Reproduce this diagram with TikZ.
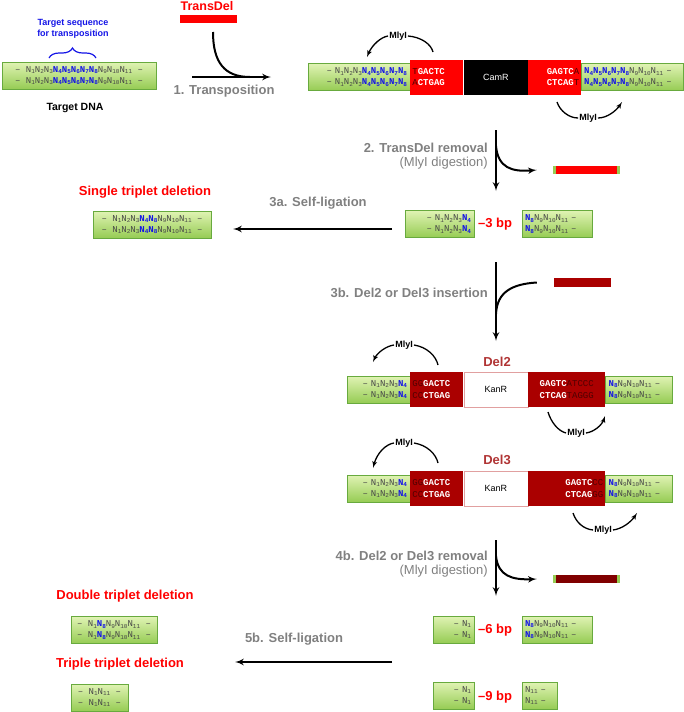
\documentclass[tikz,border=0pt]{standalone}
\usepackage{fontspec}
\setmainfont{Liberation Sans}
\setmonofont{Liberation Mono}
\usetikzlibrary{positioning,arrows,decorations.pathreplacing}

\definecolor{dnatop}{RGB}{224,243,180}
\definecolor{dnabot}{RGB}{150,204,84}
\definecolor{dnaline}{RGB}{104,170,62}
\definecolor{seqblue}{RGB}{20,20,230}
\definecolor{seqgrey}{RGB}{70,70,70}
\definecolor{transred}{RGB}{255,0,0}
\definecolor{delred}{RGB}{170,0,0}
\definecolor{darkseq}{RGB}{80,0,0}
\definecolor{barred}{RGB}{128,0,0}
\definecolor{stepgrey}{RGB}{128,128,128}
\definecolor{dellabel}{RGB}{176,52,52}
\definecolor{kanline}{RGB}{225,160,160}

% sequence letters
\newcommand{\nn}[1]{N\raisebox{-1.4pt}{\fontsize{6}{6}\selectfont #1}}
\newcommand{\nb}[1]{{\color{seqblue}\bfseries N\raisebox{-1.4pt}{\fontsize{6}{6}\selectfont #1}}}
\newcommand{\seqfull}{– \nn1\nn2\nn3\nb4\nb5\nb6\nb7\nb8\nn9\nn{10}\nn{11} –}
\newcommand{\seqleft}{– \nn1\nn2\nn3\nb4\nb5\nb6\nb7\nb8}
\newcommand{\seqright}{\nb4\nb5\nb6\nb7\nb8\nn9\nn{10}\nn{11} –}
\newcommand{\seqcut}{– \nn1\nn2\nn3\nb4}
\newcommand{\seqrest}{\nb8\nn9\nn{10}\nn{11} –}
\newcommand{\wseq}[1]{{\color{white}\bfseries #1}}
\newcommand{\dseq}[1]{{\color{darkseq}#1}}

\tikzstyle{dna} = [rectangle, draw=dnaline, top color=dnatop, bottom color=dnabot, inner sep=0pt, minimum height=27, text=seqgrey, font=\ttfamily\fontsize{9}{11}\selectfont]
\tikzstyle{cut} = [rectangle, inner sep=0pt, minimum height=35, font=\ttfamily\fontsize{9}{11.5}\selectfont]
\tikzstyle{marker} = [rectangle, inner sep=0pt, minimum height=8]
\tikzstyle{stagetext} = [font=\bfseries\fontsize{13}{15}\selectfont, text=stepgrey, inner sep=0pt]
\tikzstyle{stagenote} = [font=\fontsize{13}{15}\selectfont, text=stepgrey, inner sep=0pt]
\tikzstyle{outcome} = [font=\bfseries\fontsize{13}{15}\selectfont, text=red, inner sep=0pt]
\tikzstyle{enzyme} = [font=\bfseries\fontsize{9}{10}\selectfont, inner sep=1pt]
\tikzstyle{line} = [draw, line width=2pt, -latex']
\tikzstyle{branch} = [draw, line width=2pt]
\tikzstyle{cutarc} = [draw, line width=1.3pt]

\begin{document}
\begin{tikzpicture}[x=1pt, y=-1pt]
  \useasboundingbox (0,0) rectangle (684,712);

  % target DNA
  \node [font=\bfseries\fontsize{9}{11}\selectfont, text=seqblue, align=center] (tseq) at (73,28.5) {Target sequence\\for transposition};
  \draw [decorate, decoration={brace, amplitude=10pt}, seqblue, line width=1.2pt] (49,58) -- (96,58);
  \node [dna, minimum width=154, align=center] (target) at (79,75.5) {\seqfull\\\seqfull};
  \node [font=\bfseries\fontsize{10.5}{12}\selectfont] (targetlab) at (75,108) {Target DNA};

  % TransDel
  \node [font=\bfseries\fontsize{12.5}{14}\selectfont, text=transred, inner sep=0pt] (translab) at (207,6) {TransDel};
  \node [marker, fill=transred, minimum width=57] (transbar) at (208.5,19) {};

  % step 1
  \coordinate (a1s) at (192,77);
  \coordinate (a1e) at (271,77);
  \coordinate (a1b) at (213,32);
  \path [line] (a1s) -- (a1e);
  \path [branch] (a1b) .. controls (213,63) and (225,77) .. (250,77);
  \node [stagetext] (s1) at (224,91) {1. Transposition};

  % TransDel inserted
  \node [dna, minimum width=102, text width=96, align=right] (ins1a) at (359,77) {\seqleft\\\seqleft};
  \node [cut, fill=transred, minimum width=53, text width=49, align=left, right=0pt of ins1a] (ins1b) {\dseq{T}\wseq{GACTC}\\\dseq{A}\wseq{CTGAG}};
  \node [cut, fill=black, minimum width=64, text=white, font=\fontsize{9}{11}\selectfont, right=0pt of ins1b] (camr) {CamR};
  \node [cut, fill=transred, minimum width=53, text width=49, align=right, right=0pt of camr] (ins1c) {\wseq{GAGTC}\dseq{A}\\\wseq{CTCAG}\dseq{T}};
  \node [dna, minimum width=102, text width=97, align=left, right=0pt of ins1c] (ins1d) {\seqright\\\seqright};

  \node [enzyme] (mly1) at (398,36) {MlyI};
  \coordinate (m1s) at (433,52);
  \coordinate (m1e) at (367,57);
  \path [cutarc] (m1s) .. controls (431,44) and (421,37) .. (mly1.east);
  \path [cutarc, -latex'] (mly1.west) .. controls (381,37) and (372,45) .. (m1e);

  \node [enzyme] (mly2) at (588,118) {MlyI};
  \coordinate (m2s) at (557,102);
  \coordinate (m2e) at (622,102);
  \path [cutarc] (m2s) .. controls (560,111) and (569,118) .. (mly2.west);
  \path [cutarc, -latex'] (mly2.east) .. controls (607,118) and (616,111) .. (m2e);

  % step 2
  \coordinate (a2s) at (496,130);
  \coordinate (a2e) at (496,191);
  \coordinate (a2b) at (496,146);
  \path [line] (a2s) -- (a2e);
  \node [marker, fill=transred, minimum width=67] (cutbar1) at (586.5,170) {};
  \fill [dnabot] (cutbar1.north west) rectangle ([xshift=3pt]cutbar1.south west);
  \fill [dnabot] (cutbar1.north east) rectangle ([xshift=-3pt]cutbar1.south east);
  \path [branch, -latex'] (a2b) .. controls (498,168) and (512,172) .. ([xshift=-16pt]cutbar1.west);
  \node [stagetext, anchor=east] (s2) at (488,148) {2. TransDel removal};
  \node [stagenote, anchor=east] (s2b) at (488,163) {(MlyI digestion)};

  % -3 bp
  \node [dna, minimum width=69, text width=63, align=right] (cut3a) at (439.5,224) {\seqcut\\\seqcut};
  \node [outcome] (bp3) at (495,224) {–3 bp};
  \node [dna, minimum width=70, text width=64, align=left] (cut3b) at (557,224) {\seqrest\\\seqrest};

  % step 3a
  \coordinate (a3s) at (392,229);
  \coordinate (a3e) at (233,229);
  \path [line] (a3s) -- (a3e);
  \node [stagetext] (s3a) at (318,203) {3a. Self-ligation};
  \node [outcome] (single) at (145,192) {Single triplet deletion};
  \node [dna, minimum width=118, align=center] (singleseq) at (152,224.5) {– \nn1\nn2\nn3\nb4\nb8\nn9\nn{10}\nn{11} –\\– \nn1\nn2\nn3\nb4\nb8\nn9\nn{10}\nn{11} –};

  % step 3b
  \coordinate (a4s) at (496,262);
  \coordinate (a4e) at (496,341);
  \path [line] (a4s) -- (a4e);
  \node [marker, fill=delred, minimum width=57, minimum height=9] (delbar) at (582.5,282.5) {};
  \path [branch] ([xshift=-17pt]delbar.west) .. controls (512,284) and (497,292) .. (496,314);
  \node [stagetext, anchor=east] (s3b) at (488,293) {3b. Del2 or Del3 insertion};

  % Del2
  \node [font=\bfseries\fontsize{13}{15}\selectfont, text=dellabel] (del2lab) at (497,362) {Del2};
  \node [dna, minimum width=63, text width=57, align=right] (del2a) at (378.5,389.5) {\seqcut\\\seqcut};
  \node [cut, fill=delred, minimum width=53, text width=49, align=left, right=0pt of del2a] (del2b) {\dseq{GG}\wseq{GACTC}\\\dseq{CC}\wseq{CTGAG}};
  \node [cut, fill=white, draw=kanline, minimum width=64, font=\fontsize{9}{11}\selectfont, right=0pt of del2b] (kan2) {KanR};
  \node [cut, fill=delred, minimum width=77, align=center, right=0pt of kan2] (del2c) {\wseq{GAGTC}\dseq{ATCCC}\\\wseq{CTCAG}\dseq{TAGGG}};
  \node [dna, minimum width=67, text width=61, align=left, right=0pt of del2c] (del2d) {\seqrest\\\seqrest};

  \node [enzyme] (mly3) at (404,345) {MlyI};
  \coordinate (m3s) at (438,365);
  \coordinate (m3e) at (373,362);
  \path [cutarc] (m3s) .. controls (436,356) and (427,347) .. (mly3.east);
  \path [cutarc, -latex'] (mly3.west) .. controls (386,346) and (377,353) .. (m3e);

  \node [enzyme] (mly4) at (576,433) {MlyI};
  \coordinate (m4s) at (548,412);
  \coordinate (m4e) at (605,416);
  \path [cutarc] (m4s) .. controls (551,422) and (558,431) .. (mly4.west);
  \path [cutarc, -latex'] (mly4.east) .. controls (594,432) and (602,425) .. (m4e);

  % Del3
  \node [font=\bfseries\fontsize{13}{15}\selectfont, text=dellabel] (del3lab) at (497,460) {Del3};
  \node [dna, minimum width=63, text width=57, align=right] (del3a) at (378.5,488.5) {\seqcut\\\seqcut};
  \node [cut, fill=delred, minimum width=53, text width=49, align=left, right=0pt of del3a] (del3b) {\dseq{GG}\wseq{GACTC}\\\dseq{CC}\wseq{CTGAG}};
  \node [cut, fill=white, draw=kanline, minimum width=64, font=\fontsize{9}{11}\selectfont, right=0pt of del3b] (kan3) {KanR};
  \node [cut, fill=delred, minimum width=77, text width=73, align=right, right=0pt of kan3] (del3c) {\wseq{GAGTC}\dseq{CC}\\\wseq{CTCAG}\dseq{GG}};
  \node [dna, minimum width=67, text width=61, align=left, right=0pt of del3c] (del3d) {\seqrest\\\seqrest};

  \node [enzyme] (mly5) at (404,443) {MlyI};
  \coordinate (m5s) at (438,463);
  \coordinate (m5e) at (373,468);
  \path [cutarc] (m5s) .. controls (436,454) and (427,445) .. (mly5.east);
  \path [cutarc, -latex'] (mly5.west) .. controls (386,444) and (377,453) .. (m5e);

  \node [enzyme] (mly6) at (603,530) {MlyI};
  \coordinate (m6s) at (573,513);
  \coordinate (m6e) at (637,513);
  \path [cutarc] (m6s) .. controls (576,522) and (583,529) .. (mly6.west);
  \path [cutarc, -latex'] (mly6.east) .. controls (622,529) and (631,522) .. (m6e);

  % step 4b
  \coordinate (a5s) at (496,540);
  \coordinate (a5e) at (496,596);
  \coordinate (a5b) at (496,556);
  \path [line] (a5s) -- (a5e);
  \node [marker, fill=barred, minimum width=67] (cutbar2) at (586.5,579) {};
  \fill [dnabot] (cutbar2.north west) rectangle ([xshift=3pt]cutbar2.south west);
  \fill [dnabot] (cutbar2.north east) rectangle ([xshift=-3pt]cutbar2.south east);
  \path [branch, -latex'] (a5b) .. controls (498,576) and (512,580) .. ([xshift=-16pt]cutbar2.west);
  \node [stagetext, anchor=east] (s4b) at (488,556) {4b. Del2 or Del3 removal};
  \node [stagenote, anchor=east] (s4bb) at (488,571) {(MlyI digestion)};

  % -6 bp and -9 bp
  \node [dna, minimum width=41, text width=35, align=right] (cut6a) at (453.5,629.5) {– \nn1\\– \nn1};
  \node [outcome] (bp6) at (495,630) {–6 bp};
  \node [dna, minimum width=70, text width=64, align=left] (cut6b) at (557,629.5) {\seqrest\\\seqrest};
  \node [dna, minimum width=41, text width=35, align=right] (cut9a) at (453.5,695.5) {– \nn1\\– \nn1};
  \node [outcome] (bp9) at (495,697) {–9 bp};
  \node [dna, minimum width=35, text width=29, align=left] (cut9b) at (539.5,695.5) {\nn{11} –\\\nn{11} –};

  % step 5b
  \coordinate (a6s) at (392,662);
  \coordinate (a6e) at (235,662);
  \path [line] (a6s) -- (a6e);
  \node [stagetext] (s5b) at (294,639) {5b. Self-ligation};
  \node [outcome] (double) at (125,596) {Double triplet deletion};
  \node [dna, minimum width=86, align=center] (doubleseq) at (114,630) {– \nn1\nb8\nn9\nn{10}\nn{11} –\\– \nn1\nb8\nn9\nn{10}\nn{11} –};
  \node [outcome] (triple) at (120,664) {Triple triplet deletion};
  \node [dna, minimum width=57, align=center] (tripleseq) at (99.5,697.5) {– \nn1\nn{11} –\\– \nn1\nn{11} –};
\end{tikzpicture}
\end{document}
